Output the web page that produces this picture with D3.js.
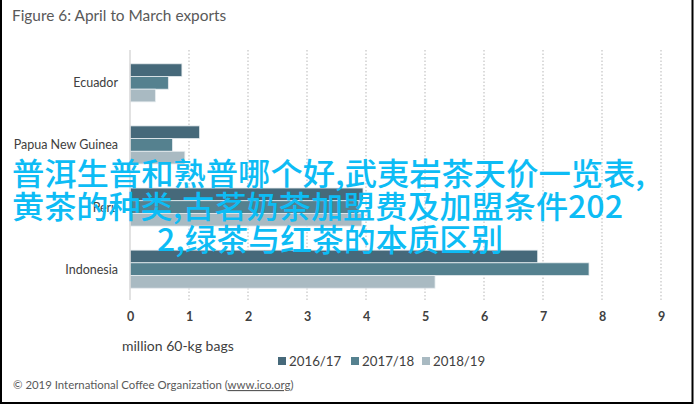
<!DOCTYPE html>
<html><head><meta charset="utf-8">
<script src="https://cdn.jsdelivr.net/npm/d3@7"></script>
<style>body{margin:0;background:#fff}svg{display:block}</style>
</head><body>
<svg id="c" width="695" height="405"></svg>
<script>
const categories = ["Ecuador","Papua New Guinea","Peru","Indonesia"];
const seriesNames = ["2016/17","2017/18","2018/19"];
const v2016 = [0.88, 1.18, 3.95, 6.91];
const v2017 = [0.65, 0.72, 3.88, 7.78];
const v2018 = [0.43, 0.93, 3.93, 5.17];
const xTicks = [0,1,2,3,4,5,6,7,8,9];
const colors = ["#46697a","#55818f","#a9bac2"];
const overlayLines = ["普洱生普和熟普哪个好,武夷岩茶天价一览表,","黄茶的种类,古茗奶茶加盟费及加盟条件202","2,绿茶与红茶的本质区别"];

const values = [v2016, v2017, v2018];
const svg = d3.select("#c");
const font = "Lato, 'Open Sans', sans-serif";

svg.append("rect").attr("x",0).attr("y",0).attr("width",695).attr("height",405).attr("fill","#fff");
svg.append("path").attr("d","M1,0V403H692.5V0").attr("fill","none").attr("stroke","#000").attr("stroke-width",2);

svg.append("text").attr("x",12).attr("y",21).text("Figure 6: April to March exports")
  .attr("font-family",font).attr("font-size",15.4).attr("fill","#595959");

const x = d3.scaleLinear().domain([0,9]).range([130,661]);
const y = d3.scaleBand().domain(categories).range([52,300]).paddingInner(0.387).paddingOuter(0.19);
const y1 = d3.scaleBand().domain(seriesNames).range([0,y.bandwidth()]);

svg.append("g").selectAll("line").data(xTicks.filter(d=>d>0)).join("line")
  .attr("x1",d=>x(d)).attr("x2",d=>x(d)).attr("y1",50).attr("y2",300)
  .attr("stroke","#cfcfcf").attr("stroke-width",1.5).attr("stroke-dasharray","1.5,2");

const g = svg.append("g");
seriesNames.forEach((s,si)=>{
  g.selectAll(null).data(categories).join("rect")
   .attr("x",x(0)).attr("y",(c)=>y(c)+y1(s))
   .attr("width",(c,i)=>x(values[si][i])-x(0))
   .attr("height",y1.bandwidth())
   .attr("fill",colors[si]).attr("stroke","#e6ecef").attr("stroke-width",0.8);
});

svg.append("line").attr("x1",x(0)).attr("x2",x(0)).attr("y1",50).attr("y2",300)
  .attr("stroke","#d9d9d9").attr("stroke-width",1.5);

svg.append("g").selectAll("text").data(categories).join("text")
  .attr("x",118).attr("y",c=>y(c)+y.bandwidth()/2+4.5).attr("text-anchor","end")
  .attr("font-family",font).attr("font-size",12.5).attr("fill","#404040").text(c=>c);

const ax = svg.append("g").attr("transform","translate(0,300)")
  .call(d3.axisBottom(x).tickValues(xTicks).tickSize(0).tickPadding(12));
ax.select(".domain").remove();
ax.selectAll("text").attr("font-family",font).attr("font-size",12.5).attr("fill","#404040").attr("font-weight","bold");

svg.append("text").attr("x",122).attr("y",351).text("million 60-kg bags")
  .attr("font-family",font).attr("font-size",14).attr("fill","#404040");

const lx = [278, 351, 422];
const lg = svg.append("g").selectAll("g").data(seriesNames).join("g")
  .attr("transform",(d,i)=>`translate(${lx[i]},0)`);
lg.append("rect").attr("x",0).attr("y",357).attr("width",8).attr("height",8).attr("fill",(d,i)=>colors[i]);
lg.append("text").attr("x",11).attr("y",365.5).text(d=>d)
  .attr("font-family",font).attr("font-size",13.3).attr("fill","#404040");

const cp = svg.append("text").attr("x",13).attr("y",389)
  .attr("font-family",font).attr("font-size",11.4).attr("fill","#595959");
cp.append("tspan").text("© 2019 International Coffee Organization (");
cp.append("tspan").text("www.ico.org").attr("text-decoration","underline");
cp.append("tspan").text(")");

// overlay text
const ovX = [12, 12, 157];
const ovW = [633, 611, 346];
svg.append("g").selectAll("text").data(overlayLines).join("text")
  .attr("x",(d,i)=>ovX[i]).attr("y",(d,i)=>185+i*33)
  .attr("textLength",(d,i)=>ovW[i]).attr("lengthAdjust","spacingAndGlyphs")
  .attr("font-family","'Noto Sans CJK SC', sans-serif").attr("font-size",31).attr("font-weight",500)
  .attr("fill","#0dbcf5").text(d=>d);
</script>
</body></html>
